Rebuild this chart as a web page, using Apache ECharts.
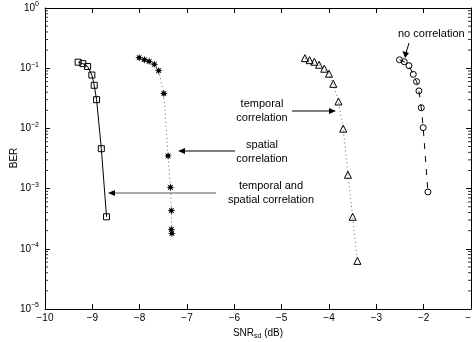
<!DOCTYPE html>
<html><head><meta charset="utf-8">
<script src="https://cdn.jsdelivr.net/npm/echarts@6/dist/echarts.min.js"></script>
<style>html,body{margin:0;padding:0;background:#fff}#c{width:472px;height:342px}</style>
</head><body><div id="c"></div>
<script>
// ---- data ----
var xTicks = [-10, -9, -8, -7, -6, -5, -4, -3, -2, -1];
var yTicks = [1e-5, 1e-4, 1e-3, 1e-2, 1e-1, 1];
var minorMultipliers = [2, 3, 4, 5, 6, 7, 8, 9];

var snrJoint = [-9.30, -9.20, -9.10, -9.01, -8.96, -8.91, -8.81, -8.70];
var berJoint = [0.126, 0.119, 0.107, 0.077, 0.052, 0.030, 0.0046, 3.4e-4];

var snrSpatial = [-8.01, -7.90, -7.80, -7.69, -7.60, -7.49, -7.40, -7.35, -7.33, -7.33, -7.32];
var berSpatial = [0.149, 0.138, 0.130, 0.116, 0.091, 0.038, 0.0035, 1.05e-3, 4.3e-4, 2.1e-4, 1.8e-4];

var snrTemporal = [-4.51, -4.41, -4.31, -4.21, -4.10, -4.00, -3.91, -3.80, -3.70, -3.60, -3.50, -3.40];
var berTemporal = [0.147, 0.136, 0.128, 0.114, 0.098, 0.081, 0.055, 0.028, 0.0099, 0.0017, 3.4e-4, 6.3e-5];

var snrNone = [-2.51, -2.41, -2.31, -2.22, -2.15, -2.10, -2.05, -2.01, -1.91];
var berNone = [0.138, 0.128, 0.110, 0.079, 0.060, 0.042, 0.022, 0.0103, 8.8e-4];

function zip(a, b) { return a.map(function (v, i) { return [v, b[i]]; }); }

// minor tick values (2..9 in each decade) for the log axis
var minorTickValues = [];
yTicks.slice(0, -1).forEach(function (d) {
  minorMultipliers.forEach(function (k) { minorTickValues.push(+(d * k).toPrecision(3)); });
});

var FONT = 'Liberation Sans';
var starPath = (function () {
  var pts = [];
  for (var i = 0; i < 16; i++) {
    var r = i % 2 === 0 ? 10 : 4.5;
    var a = Math.PI * i / 8;
    pts.push((r * Math.cos(a)).toFixed(2) + ',' + (r * Math.sin(a)).toFixed(2));
  }
  return 'path://M' + pts.join(' L') + ' Z';
})();

function expLabel(v) {
  var e = Math.round(Math.log10(v));
  var s = e < 0 ? '\u2212' + (-e) : '' + e;
  return '{b|10}{s|' + s + '}';
}

var chart = echarts.init(document.getElementById('c'), null, { renderer: 'canvas' });
var baseAxisLine = { show: true, lineStyle: { color: '#000', width: 1 } };
var xMin = xTicks[0], xMax = xTicks[xTicks.length - 1];

function minorTickSeries(xv, offset) {
  return {
    type: 'scatter', silent: true, clip: false, z: 5,
    data: minorTickValues.map(function (v) { return [xv, v]; }),
    symbol: 'rect', symbolSize: [3, 1], symbolOffset: [offset, 0],
    itemStyle: { color: '#000' }
  };
}

chart.setOption({
  animation: false,
  backgroundColor: '#fff',
  grid: { left: 45, right: 1, top: 8, bottom: 33, containLabel: false, outerBoundsMode: 'none' },
  xAxis: [
    {
      type: 'value', min: xMin, max: xMax, interval: 1, position: 'bottom',
      axisLine: baseAxisLine, splitLine: { show: false },
      axisTick: { inside: true, length: 5, lineStyle: { color: '#000' } },
      axisLabel: { color: '#000', fontFamily: FONT, fontSize: 10, margin: 4, showMaxLabel: true, showMinLabel: true,
        formatter: function (v) { return v < 0 ? '\u2212' + (-v) : '' + v; } },
      name: 'SNR{sub|sd} (dB)', nameLocation: 'middle', nameGap: 16,
      nameTextStyle: { color: '#000', fontFamily: FONT, fontSize: 10,
        rich: { sub: { fontSize: 7, fontFamily: FONT, color: '#000', verticalAlign: 'bottom', padding: [6, 0, 0, 0] } } }
    },
    {
      type: 'value', min: xMin, max: xMax, interval: 1, position: 'top',
      axisLine: baseAxisLine, splitLine: { show: false },
      axisTick: { inside: true, length: 5, lineStyle: { color: '#000' } },
      axisLabel: { show: false }
    }
  ],
  yAxis: [
    {
      type: 'log', logBase: 10, min: yTicks[0], max: yTicks[yTicks.length - 1], position: 'left',
      axisLine: baseAxisLine, splitLine: { show: false },
      axisTick: { inside: true, length: 5, lineStyle: { color: '#000' } },
      axisLabel: { color: '#000', fontFamily: FONT, margin: 6, formatter: expLabel,
        rich: { b: { fontSize: 10, fontFamily: FONT, color: '#000' },
                s: { fontSize: 7, fontFamily: FONT, color: '#000', padding: [0, 0, 7, 0] } } }
    },
    {
      type: 'log', logBase: 10, min: yTicks[0], max: yTicks[yTicks.length - 1], position: 'right',
      axisLine: baseAxisLine, splitLine: { show: false },
      axisTick: { inside: true, length: 5, lineStyle: { color: '#000' } },
      axisLabel: { show: false }
    }
  ],
  series: [
    minorTickSeries(xMin, 1.5),
    minorTickSeries(xMax, -1.5),
    {
      name: 'temporal and spatial correlation', type: 'line', data: zip(snrJoint, berJoint),
      symbol: 'rect', symbolSize: 6, showAllSymbol: true,
      lineStyle: { color: '#000', width: 1, type: 'solid' },
      itemStyle: { color: 'rgba(0,0,0,0)', borderColor: '#000', borderWidth: 1 }, z: 3
    },
    {
      name: 'spatial correlation', type: 'line', data: zip(snrSpatial, berSpatial),
      symbol: starPath, symbolSize: 8, showAllSymbol: true,
      lineStyle: { color: '#666', width: 1, type: [1, 3] },
      itemStyle: { color: '#000', borderWidth: 0 }, z: 3
    },
    {
      name: 'temporal correlation', type: 'line', data: zip(snrTemporal, berTemporal),
      symbol: 'triangle', symbolSize: 7, showAllSymbol: true,
      lineStyle: { color: '#666', width: 1, type: [1, 3] },
      itemStyle: { color: 'rgba(0,0,0,0)', borderColor: '#000', borderWidth: 1 }, z: 3
    },
    {
      name: 'no correlation', type: 'line', data: zip(snrNone, berNone),
      symbol: 'circle', symbolSize: 6, showAllSymbol: true,
      lineStyle: { color: '#000', width: 1, type: [6, 7] },
      itemStyle: { color: 'rgba(0,0,0,0)', borderColor: '#000', borderWidth: 1 }, z: 3
    }
  ],
  graphic: [
    { type: 'text', x: 14, y: 158, rotation: Math.PI / 2, style: { text: 'BER', font: '10px "Liberation Sans"', fill: '#000', align: 'center', verticalAlign: 'middle' } },

    { type: 'text', left: 398, top: 28, style: { text: 'no correlation', font: '11px "Liberation Sans"', fill: '#000' } },
    { type: 'line', shape: { x1: 409, y1: 43, x2: 406, y2: 53 }, style: { stroke: '#000', lineWidth: 1 } },
    { type: 'polygon', shape: { points: [[402.5, 51], [409, 53], [405, 58]] }, style: { fill: '#000' } },

    { type: 'text', x: 262, y: 111, style: { text: 'temporal\ncorrelation', font: '11px "Liberation Sans"', fill: '#000', align: 'center', verticalAlign: 'middle', lineHeight: 14 } },
    { type: 'line', shape: { x1: 292, y1: 111, x2: 331, y2: 111 }, style: { stroke: '#000', lineWidth: 1 } },
    { type: 'polygon', shape: { points: [[336, 111], [329, 108], [329, 114]] }, style: { fill: '#000' } },

    { type: 'text', x: 262, y: 152, style: { text: 'spatial\ncorrelation', font: '11px "Liberation Sans"', fill: '#000', align: 'center', verticalAlign: 'middle', lineHeight: 14 } },
    { type: 'line', shape: { x1: 235, y1: 151, x2: 183, y2: 151 }, style: { stroke: '#000', lineWidth: 1 } },
    { type: 'polygon', shape: { points: [[178, 151], [185, 148], [185, 154]] }, style: { fill: '#000' } },

    { type: 'text', x: 271, y: 193, style: { text: 'temporal and\nspatial correlation', font: '11px "Liberation Sans"', fill: '#000', align: 'center', verticalAlign: 'middle', lineHeight: 14 } },
    { type: 'line', shape: { x1: 216, y1: 193, x2: 113, y2: 193 }, style: { stroke: '#555', lineWidth: 1.2 } },
    { type: 'polygon', shape: { points: [[108, 193], [115, 190], [115, 196]] }, style: { fill: '#000' } }
  ]
});
</script></body></html>
